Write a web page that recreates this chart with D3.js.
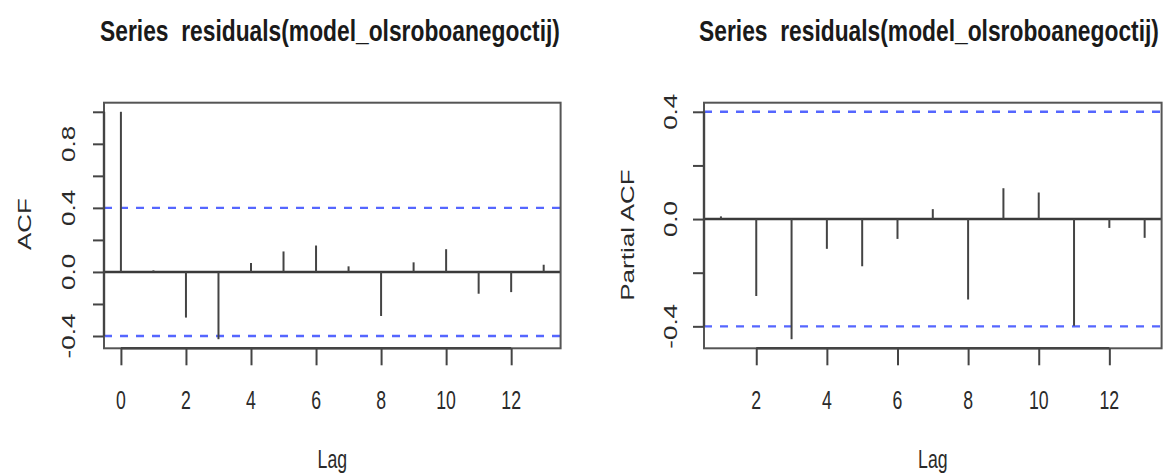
<!DOCTYPE html>
<html><head><meta charset="utf-8">
<script src="https://cdn.jsdelivr.net/npm/d3@7"></script>
<style>body{margin:0;background:#fff}svg{display:block}text{white-space:pre}</style>
</head><body>
<svg id="c" width="1172" height="476"></svg>
<script>
// ---- data ----
const acfLags = [0,1,2,3,4,5,6,7,8,9,10,11,12,13];
const acfValues = [1.0, 0.01, -0.285, -0.42, 0.056, 0.128, 0.165, 0.035, -0.275, 0.06, 0.142, -0.136, -0.126, 0.045];
const pacfLags = [1,2,3,4,5,6,7,8,9,10,11,12,13];
const pacfValues = [0.01, -0.287, -0.448, -0.111, -0.176, -0.074, 0.037, -0.30, 0.115, 0.099, -0.398, -0.033, -0.07];
const ciLimit = 0.4;
const titleText = "Series  residuals(model_olsroboanegoctij)";
const xLabelText = "Lag";
const acfYLabelText = "ACF";
const pacfYLabelText = "Partial ACF";
const acfYTicks = [-0.4,-0.2,0,0.2,0.4,0.6,0.8,1.0];
const acfYTickLabels = ["-0.4","0.0","0.4","0.8"];
const pacfYTicks = [-0.4,-0.2,0,0.2,0.4];
const pacfYTickLabels = ["-0.4","0.0","0.4"];
const acfXTicks = [0,2,4,6,8,10,12];
const pacfXTicks = [2,4,6,8,10,12];

const svg = d3.select("#c");
const FONT = "'Liberation Sans', Arial, Helvetica, sans-serif";
const SX = 0.68; // horizontal squash of the reference text
const TITLE_W = 460;

function panel(o) {
  const lagExt = d3.extent(o.lags);
  const lagPad = (lagExt[1]-lagExt[0])*0.04;
  const x = d3.scaleLinear().domain([lagExt[0]-lagPad, lagExt[1]+lagPad]).range([o.x0, o.x1]);
  const vExt = d3.extent(o.values.concat([-ciLimit, ciLimit]));
  const vPad = (vExt[1]-vExt[0])*0.04;
  const y = d3.scaleLinear().domain([vExt[0]-vPad, vExt[1]+vPad]).range([o.y1, o.y0]);
  const g = svg.append("g");

  // CI lines
  g.selectAll("line.ci").data([-ciLimit, ciLimit]).enter().append("line")
    .attr("x1", o.x0).attr("x2", o.x1)
    .attr("y1", d => y(d)).attr("y2", d => y(d))
    .attr("stroke", "#5566ff").attr("stroke-width", 2.4).attr("stroke-dasharray", "8,8");

  // zero line
  g.append("line").attr("x1", o.x0).attr("x2", o.x1)
    .attr("y1", y(0)).attr("y2", y(0)).attr("stroke", "#3a3a3a").attr("stroke-width", 2.4);

  // spikes
  g.selectAll("line.sp").data(o.lags.map((l,i)=>[l,o.values[i]])).enter().append("line")
    .attr("x1", d => x(d[0])).attr("x2", d => x(d[0]))
    .attr("y1", y(0)).attr("y2", d => y(d[1]))
    .attr("stroke", "#444").attr("stroke-width", 2);

  // box
  g.append("rect").attr("x", o.x0).attr("y", o.y0)
    .attr("width", o.x1-o.x0).attr("height", o.y1-o.y0)
    .attr("fill", "none").attr("stroke", "#555").attr("stroke-width", 2);

  // y axis
  const ya = g.append("g").attr("transform", `translate(${o.x0},0)`)
    .call(d3.axisLeft(y).tickValues(o.yTicks).tickSize(11).tickSizeOuter(0).tickFormat(""));
  ya.select(".domain").remove();
  ya.selectAll(".tick line").attr("stroke", "#444").attr("stroke-width", 2);
  g.append("line").attr("x1", o.x0).attr("x2", o.x0)
    .attr("y1", y(d3.min(o.yTicks))).attr("y2", y(d3.max(o.yTicks)))
    .attr("stroke", "#444").attr("stroke-width", 2.4);

  // x axis
  const xa = g.append("g").attr("transform", `translate(0,${o.y1})`)
    .call(d3.axisBottom(x).tickValues(o.xTicks).tickSize(17).tickSizeOuter(0).tickFormat(""));
  xa.select(".domain").remove();
  xa.selectAll(".tick line").attr("stroke", "#444").attr("stroke-width", 2);
  g.append("line").attr("y1", o.y1).attr("y2", o.y1)
    .attr("x1", x(d3.min(o.xTicks))).attr("x2", x(d3.max(o.xTicks)))
    .attr("stroke", "#444").attr("stroke-width", 2.4);

  // x tick labels
  g.selectAll("text.xl").data(o.xTicks).enter().append("text")
    .attr("transform", d => `translate(${x(d)},409) scale(${SX},1)`)
    .attr("text-anchor", "middle").attr("font-family", FONT).attr("font-size", 26)
    .attr("fill", "#2a2a2a").text(d => d);

  // y tick labels (rotated)
  g.selectAll("text.yl").data(o.yLabels).enter().append("text")
    .attr("transform", d => `translate(${o.yLabX},${y(+d)}) scale(${SX},1) rotate(-90)`)
    .attr("text-anchor", "middle").attr("font-family", FONT).attr("font-size", 26)
    .attr("fill", "#2a2a2a").text(d => d);

  const cx = (o.x0+o.x1)/2;
  // title (squashed to the reference width)
  const t = g.append("text")
    .attr("text-anchor", "middle").attr("font-family", FONT).attr("font-weight", "bold")
    .attr("font-size", 29).attr("fill", "#1a1a1a").text(titleText);
  const natural = t.node().getComputedTextLength();
  t.attr("transform", `translate(${o.titleX},41) scale(${TITLE_W/natural},1)`);
  // x label
  g.append("text").attr("transform", `translate(${cx},468) scale(${SX},1)`)
    .attr("text-anchor", "middle").attr("font-family", FONT).attr("font-size", 26)
    .attr("fill", "#2a2a2a").text(xLabelText);
  // y label
  g.append("text").attr("transform", `translate(${o.yTitleX},${o.yTitleY}) scale(${SX},1) rotate(-90)`)
    .attr("text-anchor", "middle").attr("font-family", FONT).attr("font-size", 26)
    .attr("fill", "#2a2a2a").text(o.yTitle);
}

panel({lags: acfLags, values: acfValues, yTicks: acfYTicks, yLabels: acfYTickLabels, xTicks: acfXTicks,
  x0: 104, x1: 560.6, y0: 102.7, y1: 348.3, yLabX: 75, yTitle: acfYLabelText, yTitleX: 31, yTitleY: 224, titleX: 330});
panel({lags: pacfLags, values: pacfValues, yTicks: pacfYTicks, yLabels: pacfYTickLabels, xTicks: pacfXTicks,
  x0: 704, x1: 1161.6, y0: 102.7, y1: 348.3, yLabX: 677, yTitle: pacfYLabelText, yTitleX: 634, yTitleY: 235, titleX: 929});
</script>
</body></html>
